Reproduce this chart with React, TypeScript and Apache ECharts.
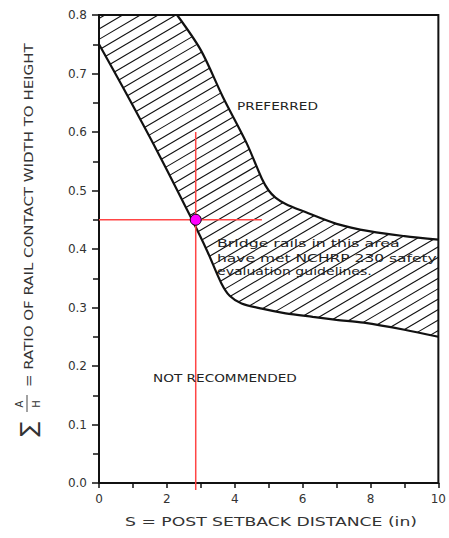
import React, { useEffect, useRef } from 'react';
import * as echarts from 'echarts';

// Upper boundary of the hatched band (preferred side)
const upperX = [2.3, 3.0, 3.65, 4.35, 4.8, 5.0, 5.2, 5.5, 6.0, 7.0, 8.0, 9.0, 10.0];
const upperY = [0.8, 0.74, 0.66, 0.581, 0.52, 0.5, 0.488, 0.477, 0.465, 0.443, 0.43, 0.422, 0.416];
// Lower boundary of the hatched band (not recommended side)
const lowerX = [0, 0.7, 1.7, 2.7, 3.2, 3.6, 3.85, 4.2, 4.8, 5.5, 6.3, 7.0, 7.8, 9.0, 10.0];
const lowerY = [0.75, 0.677, 0.569, 0.455, 0.395, 0.342, 0.32, 0.307, 0.298, 0.29, 0.284, 0.279, 0.274, 0.262, 0.25];
// Design point and red cross-hair
const pointX = [2.85];
const pointY = [0.45];
const crossHX = [0, 4.8];
const crossHY = [0.45, 0.45];
const crossVX = [2.85, 2.85];
const crossVY = [0.6, -0.012];

const X_MIN = 0, X_MAX = 10, Y_MIN = 0, Y_MAX = 0.8;

const textLabels = {
  preferred: 'PREFERRED',
  notRec: 'NOT RECOMMENDED',
  bridge: ['Bridge rails in this area', 'have met NCHRP 230 safety', 'evaluation guidelines.'],
  xName: 'S = POST SETBACK DISTANCE (in)',
  yName: '= RATIO OF RAIL CONTACT WIDTH TO HEIGHT',
};

function measure(text: string, font: string): number {
  const ctx = document.createElement('canvas').getContext('2d');
  if (!ctx) return text.length * 7;
  ctx.font = font;
  return ctx.measureText(text).width;
}

function fitText(text: string, font: string, x: number, y: number, width: number, fill = '#222', align = 'left') {
  const w = measure(text, font);
  return {
    type: 'text',
    x,
    y,
    scaleX: width / w,
    z: 20,
    style: { text, font, fill, textAlign: align, textVerticalAlign: 'middle' },
  };
}

export default function App() {
  const ref = useRef<HTMLDivElement>(null);
  useEffect(() => {
    if (!ref.current) return;
    const chart = echarts.init(ref.current, null, { renderer: 'svg' });

    const upper = upperX.map((x, i) => [x, upperY[i]]);
    const lower = lowerX.map((x, i) => [x, lowerY[i]]);
    const bandPoly = [[X_MIN, Y_MAX], ...upper, ...lower.slice().reverse()];

    const renderHatch = (params: any, api: any) => {
      const pts: number[][] = bandPoly.map((p) => api.coord(p));
      const theta = (30.5 * Math.PI) / 180;
      const d = [Math.cos(theta), -Math.sin(theta)];
      const n = [Math.sin(theta), Math.cos(theta)];
      const proj = pts.map((p) => p[0] * n[0] + p[1] * n[1]);
      const cMin = Math.min(...proj), cMax = Math.max(...proj);
      const spacing = 9;
      const children: any[] = [];
      for (let c = cMin + 3; c < cMax; c += spacing) {
        const hits: number[][] = [];
        for (let i = 0; i < pts.length; i++) {
          const p1 = pts[i], p2 = pts[(i + 1) % pts.length];
          const v1 = proj[i] - c, v2 = proj[(i + 1) % pts.length] - c;
          if ((v1 < 0) !== (v2 < 0)) {
            const t = v1 / (v1 - v2);
            hits.push([p1[0] + t * (p2[0] - p1[0]), p1[1] + t * (p2[1] - p1[1])]);
          }
        }
        hits.sort((a, b) => a[0] * d[0] + a[1] * d[1] - (b[0] * d[0] + b[1] * d[1]));
        for (let k = 0; k + 1 < hits.length; k += 2) {
          children.push({
            type: 'line',
            shape: { x1: hits[k][0], y1: hits[k][1], x2: hits[k + 1][0], y2: hits[k + 1][1] },
            style: { stroke: '#111', lineWidth: 1.1 },
          });
        }
      }
      return { type: 'group', children };
    };

    const option: any = {
      animation: false,
      backgroundColor: '#ffffff',
      grid: { left: 99, right: 10, top: 15, bottom: 55, show: true, borderColor: '#111', borderWidth: 2 },
      xAxis: {
        type: 'value',
        min: X_MIN,
        max: X_MAX,
        interval: 1,
        axisLine: { show: true, onZero: false, lineStyle: { color: '#111', width: 2 } },
        axisTick: { show: true, length: 5, lineStyle: { color: '#111', width: 1.5 } },
        splitLine: { show: false },
        axisLabel: {
          margin: 10,
          color: '#333',
          fontSize: 12,
          fontFamily: 'DejaVu Sans',
          formatter: (v: number) => (Math.round(v) % 2 === 0 ? String(Math.round(v)) : ''),
        },
      },
      yAxis: {
        type: 'value',
        min: Y_MIN,
        max: Y_MAX,
        interval: 0.1,
        axisLine: { show: true, onZero: false, lineStyle: { color: '#111', width: 2 } },
        axisTick: { show: true, length: 7, lineStyle: { color: '#111', width: 1.5 } },
        minorTick: { show: true, splitNumber: 2, length: 6, lineStyle: { color: '#111', width: 1.5 } },
        splitLine: { show: false },
        minorSplitLine: { show: false },
        axisLabel: {
          margin: 12,
          color: '#333',
          fontSize: 12,
          fontFamily: 'DejaVu Sans',
          formatter: (v: number) => v.toFixed(1),
        },
      },
      series: [
        {
          type: 'custom',
          name: 'hatch',
          data: [[0, 0]],
          renderItem: renderHatch,
          silent: true,
          z: 1,
        },
        {
          type: 'line',
          name: 'upper',
          data: upper,
          smooth: 0.3,
          showSymbol: false,
          lineStyle: { color: '#111', width: 2.2 },
          z: 3,
        },
        {
          type: 'line',
          name: 'lower',
          data: lower,
          smooth: 0.3,
          showSymbol: false,
          lineStyle: { color: '#111', width: 2.2 },
          z: 3,
        },
        {
          type: 'line',
          name: 'crossH',
          data: crossHX.map((x, i) => [x, crossHY[i]]),
          showSymbol: false,
          clip: false,
          lineStyle: { color: '#ff4545', width: 1.5 },
          z: 4,
        },
        {
          type: 'line',
          name: 'crossV',
          data: crossVX.map((x, i) => [x, crossVY[i]]),
          showSymbol: false,
          clip: false,
          lineStyle: { color: '#ff4545', width: 1.5 },
          z: 4,
        },
        {
          type: 'scatter',
          name: 'point',
          data: pointX.map((x, i) => [x, pointY[i]]),
          symbolSize: 11,
          itemStyle: { color: '#ff00ff', borderColor: '#000', borderWidth: 1, opacity: 1 },
          z: 5,
        },
      ],
      graphic: [
        fitText(textLabels.preferred, '11px "DejaVu Sans"', 237, 106, 81),
        fitText(textLabels.notRec, '11px "DejaVu Sans"', 153, 378, 144),
        fitText(textLabels.bridge[0], '11px "DejaVu Sans"', 217, 243, 183),
        fitText(textLabels.bridge[1], '11px "DejaVu Sans"', 217, 258, 220),
        fitText(textLabels.bridge[2], '11px "DejaVu Sans"', 217, 271, 155),
        fitText(textLabels.xName, '13px "DejaVu Sans"', 125, 522, 292, '#333'),
        {
          type: 'group',
          x: 28,
          y: 440,
          rotation: Math.PI / 2,
          z: 20,
          children: [
            {
              type: 'text',
              x: 11,
              y: 0,
              style: { text: '∑', font: '22px "DejaVu Sans"', fill: '#333', textAlign: 'center', textVerticalAlign: 'middle' },
            },
            {
              type: 'text',
              x: 36,
              y: -9,
              style: { text: 'A', font: '10px "DejaVu Sans"', fill: '#333', textAlign: 'center', textVerticalAlign: 'middle' },
            },
            {
              type: 'line',
              shape: { x1: 28, y1: -1, x2: 45, y2: -1 },
              style: { stroke: '#444', lineWidth: 1 },
            },
            {
              type: 'text',
              x: 36,
              y: 8,
              style: { text: 'H', font: '10px "DejaVu Sans"', fill: '#333', textAlign: 'center', textVerticalAlign: 'middle' },
            },
            fitText(textLabels.yName, '13px "DejaVu Sans"', 53, 0, 344, '#333'),
          ],
        },
      ],
    };
    chart.setOption(option);
    return () => chart.dispose();
  }, []);
  return <div ref={ref} style={{ position: 'fixed', left: 0, top: 0, width: 449, height: 538 }} />;
}
